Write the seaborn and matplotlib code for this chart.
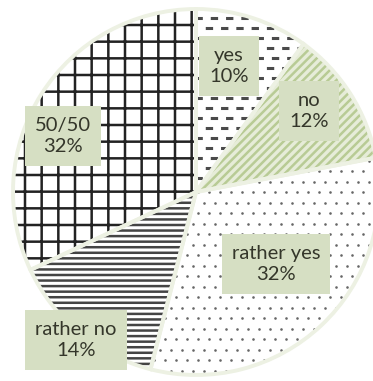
import numpy as np
import matplotlib
matplotlib.use("Agg")
import matplotlib.pyplot as plt
import seaborn as sns

# data
labels = ["yes", "no", "rather yes", "rather no", "50/50"]
shares = [10, 12, 32, 14, 32]

# look of each wedge
hatches = ["", "////", "", "---", "+"]
hatch_colors = ["#3a3a3a", "#b8cb95", "#8c8c8c", "#444444", "#222222"]
face_colors = ["white", "#e6ecd8", "white", "white", "white"]
label_xy = [(229, 66), (309, 111), (276, 264), (76, 340), (63, 136)]

sns.set_theme(style="white")
plt.rcParams["font.family"] = ["Lato", "DejaVu Sans"]
plt.rcParams["hatch.linewidth"] = 1.8

W, H = 373, 381
fig = plt.figure(figsize=(W / 100, H / 100), dpi=100)
ax = fig.add_axes([0, 0, 1, 1])
cx, cy, r = 196, H - 192, 183

wedges, _ = ax.pie(shares, startangle=90, counterclock=False,
                   center=(cx, cy), radius=r, frame=True)
for w, h, hc, fc in zip(wedges, hatches, hatch_colors, face_colors):
    w.set_facecolor(fc)
    w.set_edgecolor(hc)
    w.set_hatch(h)
    w.set_linewidth(0)

# short dashes for the "yes" wedge
for k, yy in enumerate(np.arange(cy + 4, cy + r, 10)):
    ln, = ax.plot([cx - 6 + (k % 2) * 5, cx + r], [yy, yy], color="#4a4a4a",
                  lw=2.2, ls=(0, (2.4, 2.6)), zorder=2)
    ln.set_clip_path(wedges[0])

# sparse staggered dots for "rather yes"
gx, gy = np.meshgrid(np.arange(0, W + 11, 11.0), np.arange(0, H, 10.5))
gx = gx + (np.arange(gy.shape[0])[:, None] % 2) * 5.5
dots = ax.scatter(gx.ravel(), gy.ravel(), s=3.5, c="#666666", lw=0, zorder=2)
dots.set_clip_path(wedges[2])

# light separating edges on top
ax.pie(shares, startangle=90, counterclock=False, center=(cx, cy), radius=r,
       frame=True, wedgeprops=dict(fill=False, edgecolor="#edf1e3",
                                   linewidth=2.8, zorder=3))

for lab, s, (x, y) in zip(labels, shares, label_xy):
    ax.text(x, H - y, f"{lab}\n{s}%", ha="center", va="center", fontsize=14.5,
            color="#34362a", linespacing=1.35, zorder=5,
            bbox=dict(boxstyle="square,pad=0.5", fc="#d6dfc3", ec="none"))

ax.set_xlim(0, W)
ax.set_ylim(0, H)
ax.set_aspect("equal")
ax.axis("off")
fig.savefig("out.png", dpi=100)
